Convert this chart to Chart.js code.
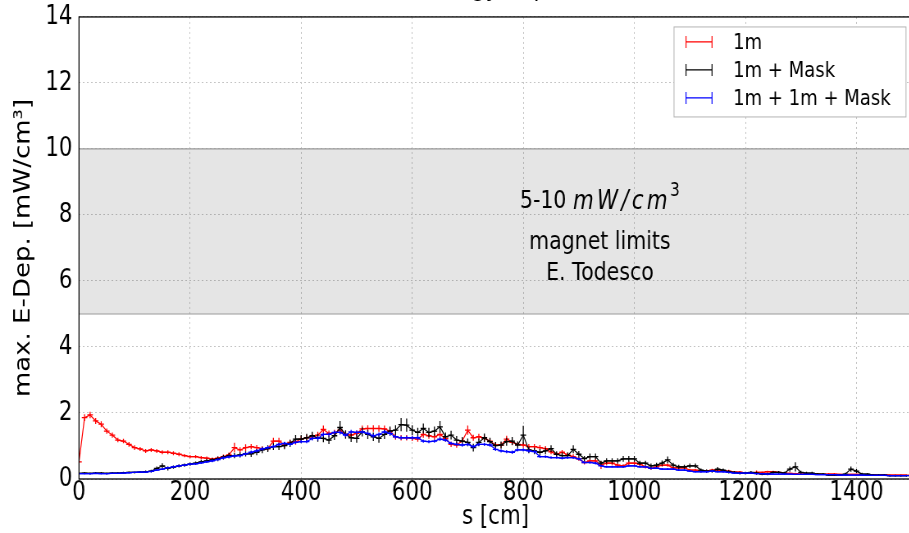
<!DOCTYPE html>
<html lang="en">
<head>
<meta charset="UTF-8">
<title>max. E-Dep. along s</title>
<style>
  html, body { margin: 0; padding: 0; overflow: hidden; background: #fff; }
  /* the original figure is squeezed sideways, so the canvas is too */
  #wrap { position: absolute; left: 0; top: -30px; transform: scaleX(0.82); transform-origin: 0 0; }
</style>
</head>
<body>
<div id="wrap"><canvas id="myChart" width="1122" height="563"></canvas></div>
<script src="https://cdn.jsdelivr.net/npm/chart.js@4.4.0/dist/chart.umd.min.js"></script>
<script>
// ---- data (s in cm, max. energy deposition in mW/cm3) ----
var seriesLabels = ["1m", "1m + Mask", "1m + 1m + Mask"];
var seriesColors = ["#ff0000", "#000000", "#0000ff"];

var sPos = [
  0,10,20,30,40,50,60,70,80,90,100,110,120,130,140,150,160,170,180,190,
  200,210,220,230,240,250,260,270,280,290,300,310,320,330,340,350,360,370,380,390,
  400,410,420,430,440,450,460,470,480,490,500,510,520,530,540,550,560,570,580,590,
  600,610,620,630,640,650,660,670,680,690,700,710,720,730,740,750,760,770,780,790,
  800,810,820,830,840,850,860,870,880,890,900,910,920,930,940,950,960,970,980,990,
  1000,1010,1020,1030,1040,1050,1060,1070,1080,1090,1100,1110,1120,1130,1140,1150,1160,1170,1180,1190,
  1200,1210,1220,1230,1240,1250,1260,1270,1280,1290,1300,1310,1320,1330,1340,1350,1360,1370,1380,1390,
  1400,1410,1420,1430,1440,1450,1460,1470,1480,1490
];

var dep1m = [
  0.52,1.86,1.94,1.76,1.66,1.45,1.33,1.18,1.15,1.05,
  0.95,0.91,0.85,0.88,0.85,0.81,0.81,0.78,0.75,0.71,
  0.68,0.68,0.65,0.63,0.60,0.63,0.68,0.73,0.95,0.88,
  0.95,0.98,0.95,0.92,0.92,1.15,1.15,1.03,1.11,1.13,
  1.21,1.25,1.28,1.33,1.50,1.38,1.40,1.48,1.35,1.33,
  1.38,1.52,1.53,1.53,1.53,1.52,1.45,1.28,1.25,1.25,
  1.23,1.21,1.35,1.31,1.28,1.35,1.23,1.05,1.03,1.15,
  1.48,1.25,1.28,1.23,1.15,1.03,1.03,1.21,1.11,1.05,
  1.03,0.98,0.98,0.95,0.92,0.82,0.75,0.81,0.73,0.68,
  0.61,0.50,0.55,0.55,0.42,0.48,0.48,0.42,0.40,0.48,
  0.48,0.45,0.37,0.32,0.37,0.42,0.42,0.34,0.34,0.34,
  0.27,0.27,0.24,0.24,0.27,0.27,0.24,0.24,0.21,0.21,
  0.18,0.18,0.20,0.20,0.22,0.22,0.20,0.18,0.17,0.16,
  0.15,0.16,0.15,0.15,0.14,0.15,0.15,0.14,0.13,0.14,
  0.14,0.13,0.13,0.13,0.12,0.13,0.12,0.12,0.12,0.12
];
var err1m = [
  0.05,0.10,0.10,0.09,0.09,0.08,0.08,0.07,0.07,0.07,
  0.07,0.06,0.06,0.06,0.06,0.06,0.06,0.06,0.06,0.05,
  0.05,0.05,0.05,0.05,0.05,0.05,0.06,0.07,0.15,0.08,
  0.10,0.08,0.08,0.07,0.07,0.10,0.10,0.08,0.08,0.09,
  0.09,0.09,0.09,0.10,0.12,0.09,0.09,0.10,0.09,0.09,
  0.09,0.10,0.10,0.10,0.10,0.10,0.10,0.09,0.08,0.08,
  0.08,0.08,0.10,0.09,0.09,0.10,0.09,0.08,0.08,0.09,
  0.14,0.09,0.09,0.09,0.08,0.08,0.08,0.10,0.09,0.08,
  0.08,0.08,0.08,0.08,0.08,0.07,0.07,0.07,0.07,0.07,
  0.06,0.06,0.07,0.07,0.12,0.06,0.06,0.06,0.05,0.06,
  0.06,0.05,0.05,0.05,0.05,0.05,0.05,0.04,0.04,0.04,
  0.04,0.04,0.04,0.04,0.04,0.04,0.04,0.04,0.03,0.03,
  0.03,0.03,0.06,0.03,0.03,0.03,0.03,0.03,0.03,0.03,
  0.03,0.03,0.03,0.03,0.02,0.03,0.03,0.02,0.02,0.02,
  0.02,0.02,0.02,0.02,0.02,0.02,0.02,0.02,0.02,0.02
];

var depMask = [
  0.17,0.18,0.17,0.18,0.18,0.17,0.18,0.18,0.19,0.20,
  0.20,0.21,0.22,0.24,0.32,0.40,0.32,0.36,0.40,0.42,
  0.45,0.48,0.52,0.55,0.58,0.61,0.66,0.71,0.71,0.73,
  0.76,0.76,0.81,0.88,0.92,0.98,0.98,1.01,1.08,1.21,
  1.21,1.25,1.31,1.25,1.23,1.18,1.31,1.56,1.35,1.25,
  1.23,1.43,1.35,1.28,1.23,1.35,1.45,1.48,1.65,1.63,
  1.48,1.41,1.53,1.41,1.45,1.58,1.28,1.33,1.18,1.15,
  1.11,0.95,1.11,1.25,1.13,1.01,1.03,1.13,1.15,1.03,
  1.33,0.88,0.85,0.81,0.85,0.92,0.75,0.71,0.71,0.90,
  0.75,0.62,0.68,0.68,0.48,0.55,0.55,0.55,0.61,0.61,
  0.61,0.48,0.48,0.40,0.42,0.48,0.58,0.42,0.37,0.37,
  0.40,0.40,0.27,0.24,0.24,0.30,0.27,0.22,0.20,0.18,
  0.18,0.20,0.18,0.15,0.15,0.20,0.20,0.18,0.30,0.37,
  0.20,0.18,0.18,0.15,0.15,0.12,0.12,0.12,0.15,0.30,
  0.24,0.15,0.15,0.12,0.12,0.12,0.10,0.10,0.10,0.10
];
var errMask = [
  0.03,0.03,0.03,0.03,0.03,0.03,0.03,0.03,0.03,0.03,
  0.03,0.03,0.04,0.04,0.06,0.08,0.06,0.05,0.05,0.05,
  0.05,0.05,0.06,0.06,0.06,0.07,0.07,0.08,0.08,0.08,
  0.08,0.09,0.09,0.10,0.10,0.10,0.10,0.11,0.11,0.12,
  0.12,0.12,0.12,0.12,0.12,0.12,0.13,0.20,0.13,0.13,
  0.13,0.14,0.14,0.13,0.13,0.14,0.14,0.15,0.20,0.20,
  0.15,0.14,0.15,0.14,0.14,0.18,0.13,0.13,0.12,0.12,
  0.12,0.12,0.12,0.13,0.12,0.11,0.11,0.12,0.12,0.11,
  0.28,0.10,0.10,0.10,0.10,0.10,0.09,0.09,0.09,0.12,
  0.10,0.08,0.09,0.09,0.07,0.08,0.08,0.08,0.09,0.09,
  0.09,0.07,0.07,0.07,0.07,0.08,0.10,0.07,0.06,0.06,
  0.07,0.07,0.05,0.05,0.05,0.06,0.05,0.05,0.04,0.04,
  0.04,0.04,0.04,0.04,0.04,0.04,0.04,0.04,0.08,0.14,
  0.05,0.04,0.04,0.03,0.03,0.03,0.03,0.03,0.04,0.08,
  0.06,0.04,0.03,0.03,0.03,0.03,0.03,0.03,0.03,0.03
];

var dep1m1m = [
  0.16,0.16,0.16,0.17,0.16,0.16,0.17,0.17,0.18,0.19,
  0.20,0.21,0.21,0.23,0.27,0.30,0.34,0.37,0.40,0.42,
  0.45,0.46,0.49,0.52,0.55,0.59,0.64,0.67,0.70,0.71,
  0.76,0.81,0.85,0.91,0.95,0.98,1.05,1.08,1.05,1.11,
  1.13,1.13,1.23,1.23,1.35,1.35,1.41,1.41,1.33,1.43,
  1.41,1.43,1.38,1.31,1.35,1.43,1.38,1.28,1.25,1.25,
  1.25,1.25,1.15,1.13,1.15,1.21,1.18,1.08,1.05,1.03,
  1.05,0.98,1.05,1.05,1.03,0.90,0.85,0.83,0.81,0.88,
  0.88,0.85,0.83,0.68,0.68,0.65,0.65,0.63,0.65,0.65,
  0.61,0.50,0.50,0.48,0.40,0.37,0.37,0.37,0.37,0.40,
  0.40,0.37,0.37,0.32,0.33,0.30,0.30,0.30,0.27,0.27,
  0.24,0.22,0.22,0.22,0.24,0.22,0.22,0.20,0.18,0.18,
  0.18,0.18,0.16,0.16,0.15,0.15,0.15,0.15,0.15,0.14,
  0.14,0.14,0.14,0.13,0.13,0.13,0.13,0.12,0.12,0.12,
  0.12,0.12,0.11,0.11,0.11,0.11,0.10,0.10,0.10,0.10
];
var err1m1m = [
  0.02,0.02,0.02,0.02,0.02,0.02,0.02,0.02,0.02,0.02,
  0.02,0.02,0.02,0.03,0.03,0.03,0.03,0.03,0.03,0.03,
  0.03,0.03,0.03,0.03,0.04,0.04,0.04,0.04,0.04,0.04,
  0.04,0.05,0.05,0.05,0.05,0.05,0.05,0.05,0.05,0.05,
  0.05,0.05,0.06,0.06,0.06,0.06,0.06,0.06,0.06,0.06,
  0.06,0.06,0.06,0.06,0.06,0.06,0.06,0.06,0.06,0.06,
  0.06,0.06,0.05,0.05,0.05,0.06,0.05,0.05,0.05,0.05,
  0.05,0.05,0.05,0.05,0.05,0.05,0.05,0.05,0.05,0.05,
  0.05,0.05,0.05,0.04,0.04,0.04,0.04,0.04,0.04,0.04,
  0.04,0.04,0.04,0.04,0.03,0.03,0.03,0.03,0.03,0.03,
  0.03,0.03,0.03,0.03,0.03,0.03,0.03,0.03,0.03,0.03,
  0.03,0.03,0.03,0.03,0.03,0.03,0.03,0.02,0.02,0.02,
  0.02,0.02,0.02,0.02,0.02,0.02,0.02,0.02,0.02,0.02,
  0.02,0.02,0.02,0.02,0.02,0.02,0.02,0.02,0.02,0.02,
  0.02,0.02,0.02,0.02,0.02,0.02,0.02,0.02,0.02,0.02
];

var seriesValues = [dep1m, depMask, dep1m1m];
var seriesErrors = [err1m, errMask, err1m1m];
var binHalfWidth = 5;

var xTicks = [0, 200, 400, 600, 800, 1000, 1200, 1400];
var yTicks = [0, 2, 4, 6, 8, 10, 12, 14];
var limitBand = [5, 10];
var limitText = ["magnet limits", "E. Todesco"];
var limitTextPos = [938, [8.4, 7.18, 6.24]];

// ---- layout helpers (page px -> canvas px) ----
var SQ = 0.82, OFF = 30, CW = 1122, CH = 563;
var FONT = "'DejaVu Sans', sans-serif";

function pts(vals) {
  return vals.map(function (v, i) { return { x: sPos[i], y: v }; });
}

var datasets = seriesLabels.map(function (lab, k) {
  return {
    label: lab,
    data: pts(seriesValues[k]),
    borderColor: seriesColors[k],
    backgroundColor: seriesColors[k],
    borderWidth: 1.2,
    pointRadius: 0,
    tension: 0,
    order: 3 - k
  };
});

// draws a string one glyph at a time with extra spacing, returns the width
function spacedText(ctx, txt, x, y, gap, draw) {
  var w = 0;
  for (var i = 0; i < txt.length; i++) {
    if (draw) ctx.fillText(txt[i], x + w, y);
    w += ctx.measureText(txt[i]).width + (i < txt.length - 1 ? gap : 0);
  }
  return w;
}

// gray band for the magnet limits + text
var bandPlugin = {
  id: "band",
  beforeDatasetsDraw: function (chart) {
    var ctx = chart.ctx, a = chart.chartArea, y = chart.scales.y;
    var yTop = y.getPixelForValue(limitBand[1]), yBot = y.getPixelForValue(limitBand[0]);
    ctx.save();
    ctx.fillStyle = "rgba(0,0,0,0.1)";
    ctx.fillRect(a.left, yTop, a.right - a.left, yBot - yTop);
    ctx.strokeStyle = "#999999";
    ctx.lineWidth = 1.2;
    ctx.beginPath();
    ctx.moveTo(a.left, yTop); ctx.lineTo(a.right, yTop);
    ctx.moveTo(a.left, yBot); ctx.lineTo(a.right, yBot);
    ctx.stroke();

    // text lines
    var cx = chart.scales.x.getPixelForValue(limitTextPos[0]);
    var ys = limitTextPos[1].map(function (v) { return y.getPixelForValue(v); });
    ctx.fillStyle = "#000";
    ctx.textBaseline = "middle";
    ctx.textAlign = "left";
    // first line: 5-10 mW/cm^3 (math part in italic, mathtext spacing)
    var f1 = "25px " + FONT, fi = "italic 26px " + FONT, fs = "19px " + FONT;
    ctx.font = f1; var w1 = ctx.measureText("5-10 ").width;
    ctx.font = fi; var w2 = spacedText(ctx, "mW/cm", 0, 0, 4, false);
    ctx.font = fs; var w3 = ctx.measureText("3").width;
    var x0 = cx - (w1 + w2 + w3 + 3) / 2;
    ctx.font = f1; ctx.fillText("5-10 ", x0, ys[0]);
    ctx.font = fi; spacedText(ctx, "mW/cm", x0 + w1, ys[0], 4, true);
    ctx.font = fs; ctx.fillText("3", x0 + w1 + w2 + 3, ys[0] - 11);
    ctx.textAlign = "center";
    ctx.font = f1;
    ctx.fillText(limitText[0], cx, ys[1]);
    ctx.fillText(limitText[1], cx, ys[2]);
    ctx.restore();
  }
};

// error bars: vertical +/- err, horizontal +/- half bin
var errorBarPlugin = {
  id: "errbars",
  afterDatasetDraw: function (chart, args) {
    var k = args.index, ctx = chart.ctx, a = chart.chartArea;
    var xs = chart.scales.x, ys = chart.scales.y;
    var vals = seriesValues[k], errs = seriesErrors[k];
    ctx.save();
    ctx.beginPath();
    ctx.rect(a.left, a.top, a.right - a.left, a.bottom - a.top);
    ctx.clip();
    ctx.strokeStyle = seriesColors[k];
    ctx.lineWidth = 1.3;
    ctx.beginPath();
    for (var i = 0; i < vals.length; i++) {
      var px = xs.getPixelForValue(sPos[i]);
      ctx.moveTo(px, ys.getPixelForValue(vals[i] - errs[i]));
      ctx.lineTo(px, ys.getPixelForValue(vals[i] + errs[i]));
      var py = ys.getPixelForValue(vals[i]);
      ctx.moveTo(xs.getPixelForValue(sPos[i] - binHalfWidth), py);
      ctx.lineTo(xs.getPixelForValue(sPos[i] + binHalfWidth), py);
    }
    ctx.stroke();
    ctx.restore();
  }
};

// frame + legend box
var framePlugin = {
  id: "frame",
  afterDraw: function (chart) {
    var ctx = chart.ctx, a = chart.chartArea;
    ctx.save();
    ctx.strokeStyle = "#000";
    ctx.lineWidth = 1.3;
    ctx.strokeRect(a.left, a.top, a.right - a.left, a.bottom - a.top);

    // legend in the upper right corner
    var bw = 232 / SQ, bh = 90;
    var bx = a.right - bw - 6 / SQ, by = a.top + 10;
    ctx.fillStyle = "#fff";
    ctx.fillRect(bx, by, bw, bh);
    ctx.strokeStyle = "#b3b3b3";
    ctx.lineWidth = 1;
    ctx.strokeRect(bx, by, bw, bh);
    ctx.font = "22px " + FONT;
    ctx.textAlign = "left";
    ctx.textBaseline = "middle";
    for (var k = 0; k < seriesLabels.length; k++) {
      var ry = by + 15 + k * 28;
      var hx0 = bx + 12 / SQ, hx1 = bx + 38 / SQ;
      ctx.strokeStyle = seriesColors[k];
      ctx.lineWidth = 1.2;
      ctx.beginPath();
      ctx.moveTo(hx0, ry); ctx.lineTo(hx1, ry);
      ctx.moveTo(hx0, ry - 6); ctx.lineTo(hx0, ry + 6);
      ctx.moveTo(hx1, ry - 6); ctx.lineTo(hx1, ry + 6);
      ctx.stroke();
      ctx.fillStyle = "#000";
      ctx.fillText(seriesLabels[k], bx + 59 / SQ, ry + 1);
    }
    ctx.restore();
  }
};

var ctx = document.getElementById("myChart").getContext("2d");
var myChart = new Chart(ctx, {
  type: "line",
  data: { datasets: datasets },
  plugins: [bandPlugin, errorBarPlugin, framePlugin],
  options: {
    responsive: false,
    animation: false,
    devicePixelRatio: 1,
    layout: { padding: { left: 0, right: CW - 912 / SQ, top: 0, bottom: 0 } },
    plugins: {
      legend: { display: false },
      tooltip: { enabled: false },
      title: {
        display: true,
        fullSize: false,
        text: "Calculated maximum energy deposition in the IT (FLUKA)",
        color: "#000",
        font: { family: FONT, size: 27, weight: "normal", lineHeight: 1.35 },
        padding: { top: 0, bottom: 10.5 }
      }
    },
    scales: {
      x: {
        type: "linear",
        min: 0,
        max: 1500,
        afterBuildTicks: function (ax) { ax.ticks = xTicks.map(function (v) { return { value: v }; }); },
        afterFit: function (ax) { ax.height = CH - (479 + OFF); },
        ticks: {
          color: "#000",
          font: { family: FONT, size: 26, lineHeight: 1 },
          padding: 1,
          maxRotation: 0,
          autoSkip: false,
          callback: function (v) { return String(v); }
        },
        grid: { color: "#c4c4c4", lineWidth: 1, drawTicks: false },
        border: { display: false, dash: [2, 3] },
        title: { display: true, text: "s [cm]", color: "#000", font: { family: FONT, size: 26, lineHeight: 1.2 }, padding: 0 }
      },
      y: {
        min: 0,
        max: 14,
        afterBuildTicks: function (ax) { ax.ticks = yTicks.map(function (v) { return { value: v }; }); },
        afterFit: function (ax) { ax.width = 79 / SQ; },
        ticks: {
          color: "#000",
          font: { family: FONT, size: 26, lineHeight: 1.2 },
          padding: 8,
          callback: function (v) { return String(v); }
        },
        grid: { color: "#c4c4c4", lineWidth: 1, drawTicks: false },
        border: { display: false, dash: [2, 3] },
        title: { display: true, text: "max. E-Dep. [mW/cm\u00b3]", color: "#000", font: { family: FONT, size: 26, lineHeight: 1.2 }, padding: { top: 14, bottom: 0 } }
      }
    }
  }
});
</script>
</body>
</html>
